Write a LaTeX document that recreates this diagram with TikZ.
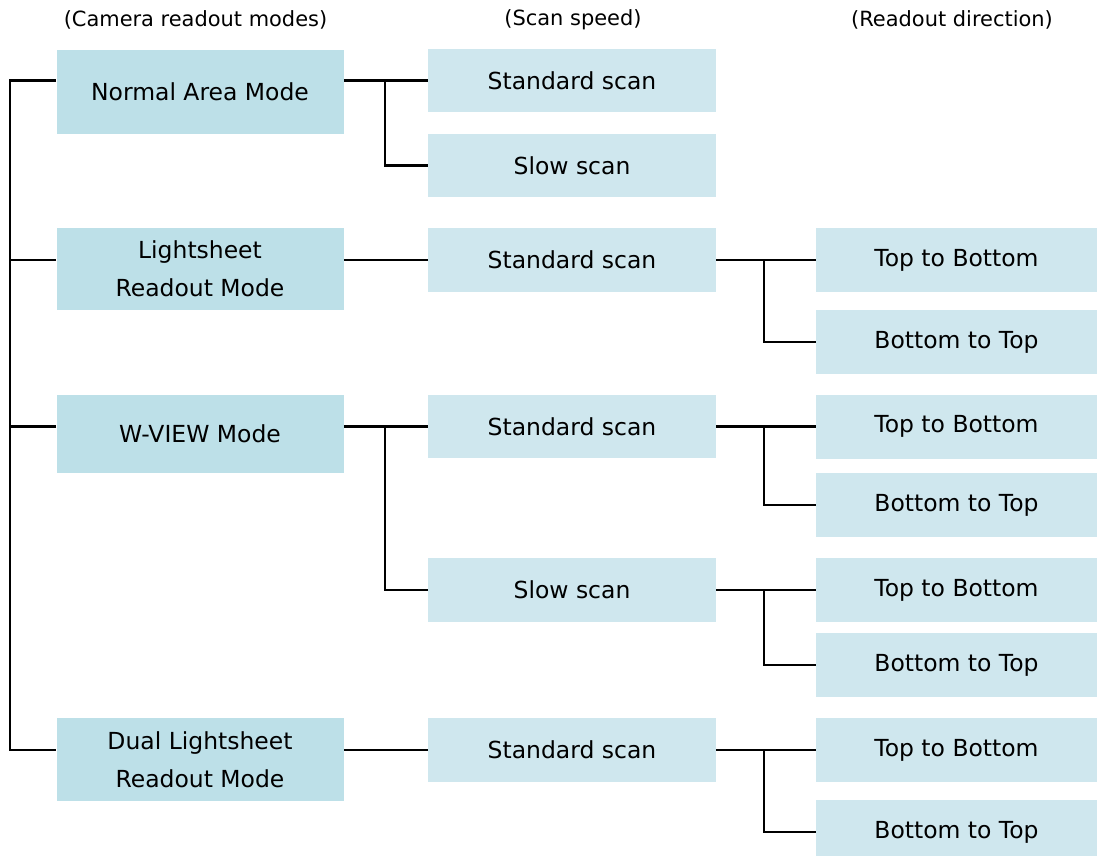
\documentclass[tikz,border=0pt]{standalone}
\usepackage{fontspec}
\setmainfont{DejaVu Sans}
\usetikzlibrary{positioning}
\definecolor{modefill}{RGB}{189,224,232}
\definecolor{subfill}{RGB}{207,231,238}
\tikzset{
box/.style={
  rectangle,
  inner sep=0pt,
  align=center,
  font=\fontsize{17.6}{28.5}\selectfont
},
modebox/.style={box,fill=modefill,minimum width=215.25pt},
speedbox/.style={box,fill=subfill,minimum width=216pt,minimum height=47.6pt},
dirbox/.style={box,fill=subfill,minimum width=210.75pt,minimum height=48pt},
heading/.style={font=\fontsize{15.7}{19}\selectfont},
wire/.style={line width=1.6pt},
}

\begin{document}
\begin{tikzpicture}[x=0.75pt,y=-0.75pt]
\useasboundingbox (0,0) rectangle (1097,856);
\clip (0,0) rectangle (1097,856);
% the headings
\node[heading] (h-mode) at (195.5,20) {(Camera readout modes)};
\node[heading] (h-speed) at (573,20) {(Scan speed)};
\node[heading] (h-dir) at (952,20) {(Readout direction)};
% the camera readout modes
\node[modebox,minimum height=63pt] (normal) at (200,92) {Normal Area Mode};
\node[modebox,minimum height=61.5pt] (light) at (200,269) {Lightsheet\\Readout Mode};
\node[modebox,minimum height=58.5pt] (wview) at (200,434) {W-VIEW Mode};
\node[modebox,minimum height=62.25pt] (dual) at (200,759.5) {Dual Lightsheet\\Readout Mode};
% the scan speeds
\node[speedbox] (normal-std) at (572,80.5) {Standard scan};
\node[speedbox] (normal-slow) at (572,165.5) {Slow scan};
\node[speedbox] (light-std) at (572,260) {Standard scan};
\node[speedbox] (wview-std) at (572,426.5) {Standard scan};
\node[speedbox] (wview-slow) at (572,590) {Slow scan};
\node[speedbox] (dual-std) at (572,750) {Standard scan};
% the readout directions
\node[dirbox] (light-std-tb) at (956.5,260) {Top to Bottom};
\node[dirbox] (light-std-bt) at (956.5,342) {Bottom to Top};
\node[dirbox] (wview-std-tb) at (956.5,426.5) {Top to Bottom};
\node[dirbox] (wview-std-bt) at (956.5,505) {Bottom to Top};
\node[dirbox] (wview-slow-tb) at (956.5,590) {Top to Bottom};
\node[dirbox] (wview-slow-bt) at (956.5,665) {Bottom to Top};
\node[dirbox] (dual-std-tb) at (956.5,750) {Top to Bottom};
\node[dirbox] (dual-std-bt) at (956.5,832) {Bottom to Top};
% the left rail
\draw[wire] (normal.west |- normal-std) -- ++(-46,0) |- (dual.west |- dual-std);
\foreach \m in {light,wview}
  \draw[wire] (\m.west |- \m-std) -- ++(-46,0);
% mode to scan speed
\foreach \m in {normal,light,wview,dual}
  \draw[wire] (\m.east |- \m-std) -- (\m-std.west);
\foreach \m in {normal,wview}
  \draw[wire] (\m-std.west) ++(-43,0) |- (\m-slow.west);
% scan speed to readout direction
\foreach \s in {light-std,wview-std,wview-slow,dual-std}
{
  \draw[wire] (\s.east) -- (\s-tb.west);
  \draw[wire] (\s.east) ++(48,0) |- (\s-bt.west);
}
\end{tikzpicture}
\end{document}
